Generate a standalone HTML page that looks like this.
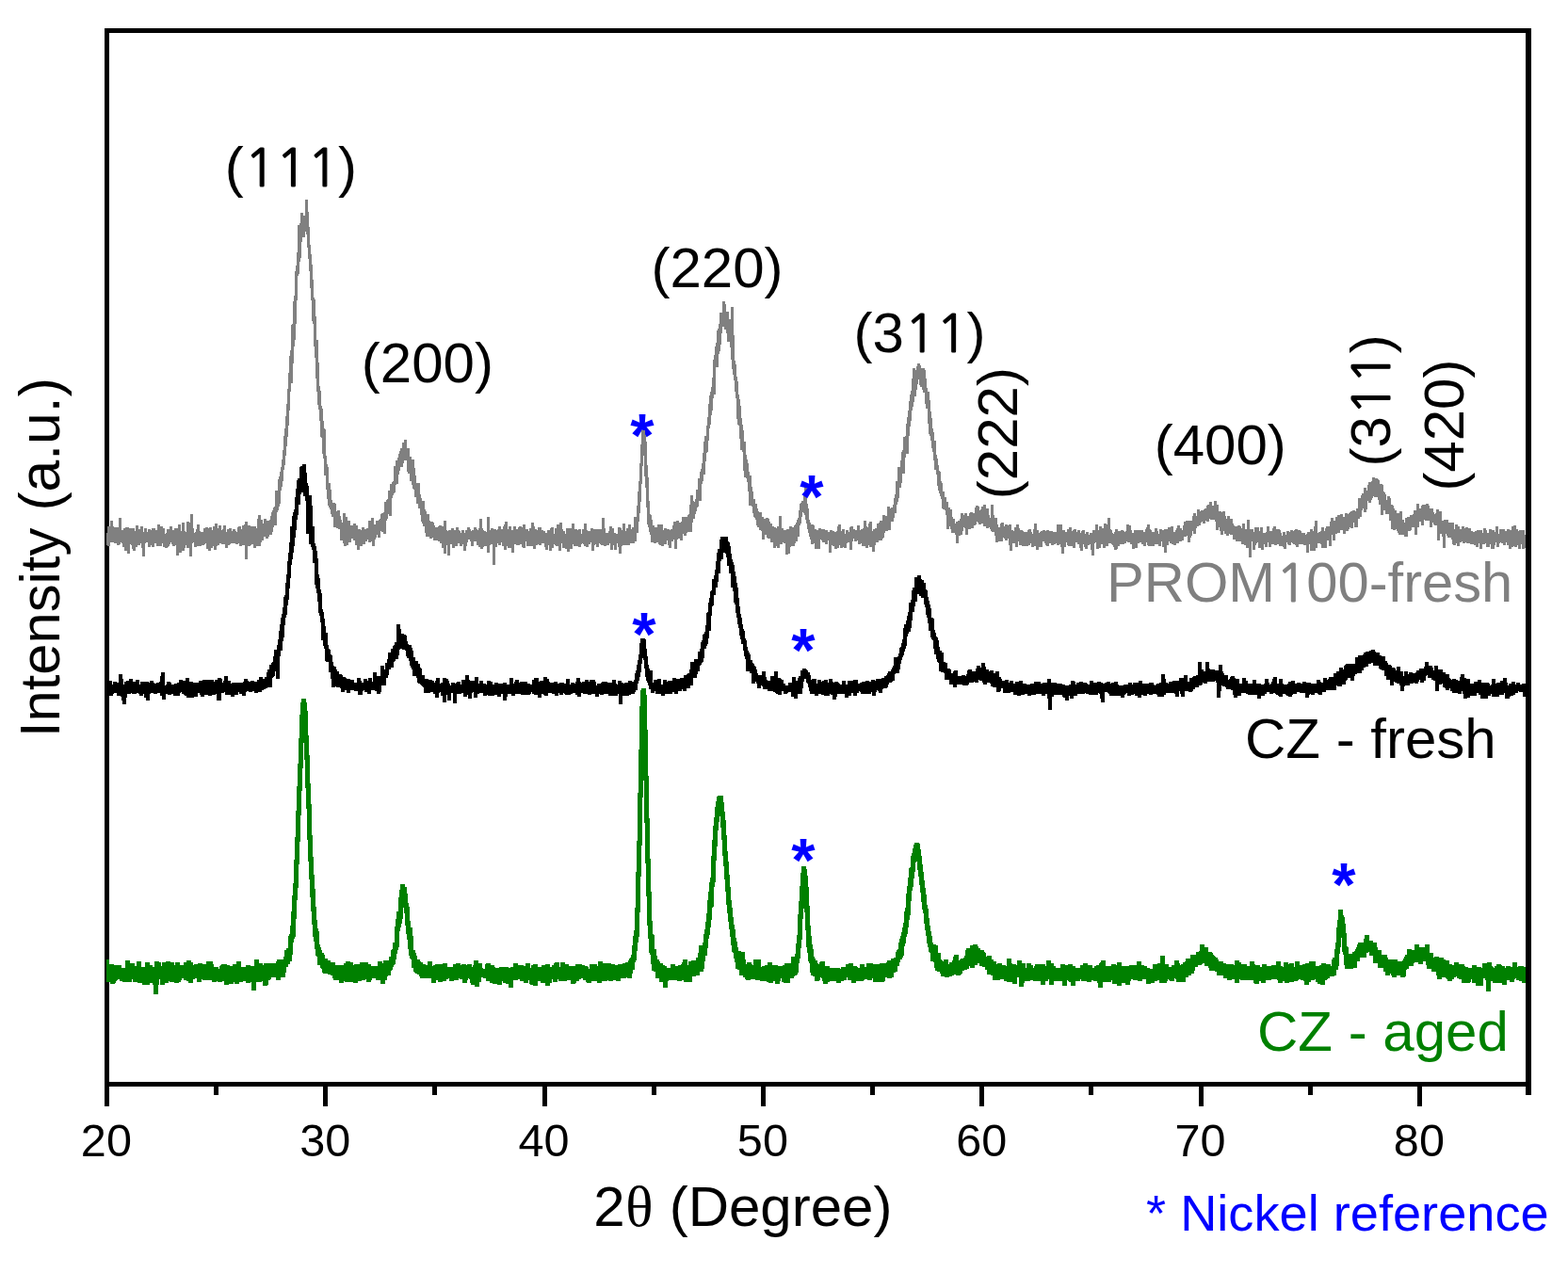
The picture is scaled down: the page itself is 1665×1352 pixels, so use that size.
<!DOCTYPE html>
<html lang="en"><head><meta charset="utf-8"><title>XRD patterns</title>
<style>
html,body{margin:0;padding:0;background:#fff;overflow:hidden;}
svg{display:block;}
text{font-family:"Liberation Sans",sans-serif;font-kerning:none;}
.n1{font-family:"NanumGothic","Liberation Sans",sans-serif;stroke-width:1.1px;}
</style></head><body>
<svg width="1665" height="1352" viewBox="0 0 1665 1352" role="img" aria-label="XRD patterns">
<rect x="0" y="0" width="1665" height="1352" fill="#fff"/>
<g fill="#000" shape-rendering="crispEdges">
<rect x="111" y="30" width="5" height="1145"/>
<rect x="111" y="30" width="1515" height="5"/>
<rect x="111" y="1149" width="1515" height="5"/>
<rect x="1620" y="30" width="6" height="1133"/>
<rect x="227" y="1149" width="5" height="14"/>
<rect x="343" y="1149" width="5" height="26"/>
<rect x="459" y="1149" width="5" height="14"/>
<rect x="576" y="1149" width="5" height="26"/>
<rect x="692" y="1149" width="5" height="14"/>
<rect x="808" y="1149" width="5" height="26"/>
<rect x="924" y="1149" width="5" height="14"/>
<rect x="1040" y="1149" width="5" height="26"/>
<rect x="1156" y="1149" width="5" height="14"/>
<rect x="1273" y="1149" width="5" height="26"/>
<rect x="1389" y="1149" width="5" height="14"/>
<rect x="1505" y="1149" width="5" height="26"/>
</g>
<text x="669.2" y="485.1" font-size="65" font-weight="bold" fill="#0000ff">*</text>
<g shape-rendering="crispEdges">
<path fill="#808080" d="M113 566h1v-7h3v-6h3v6h1v1h5v-10h3v13h2v-2h2v-1h4v1h6v3h1v-6h3v4h2v-3h3v6h1v-4h3v4h1v-3h3v1h1v-2h4v2h2v-6h3v2h3v2h2v6h1v-1h1v-4h3v-3h3v4h2v-2h4v-4h3v7h1v-9h3v9h1v1h1v-11h3v1h1v-9h3v15h1v5h1v-1h1v-3h1v-5h3v7h1v1h3v-4h2v-1h3v1h1v-1h3v3h1v-4h2v-3h3v5h1v-3h3v5h1v-1h1v-4h3v7h1v-3h2v-1h3v3h1v-2h3v2h1v1h1v-5h1v-1h3v3h1v-4h2v-1h1v-3h3v4h3v1h6v2h1v-10h1v-4h3v5h2v4h1v-5h3v2h3v-1h1v-4h1v-4h1v-2h1v-3h1v-1h1v-17h3v-12h1v-3h1v-5h1v-5h1v-8h1v-10h1v-15h1v-8h1v-13h1v-13h1v-16h1v-17h1v-18h1v-6h1v-27h1v-1h1v-24h1v-6h1v-26h1v-6h1v-14h1v-29h2v-2h1v-11h3v3h2v-17h3v13h1v16h1v19h1v10h1v11h1v16h1v19h1v2h1v18h1v25h2v24h1v25h1v5h1v16h1v3h1v13h1v8h1v1h1v28h1v9h1v3h1v17h2v7h1v11h1v3h3v1h1v8h1v-1h3v6h1v4h1v3h1v-10h3v4h2v4h3v5h3v-2h3v2h2v4h3v1h1v-3h3v2h2v-1h2v-8h3v-3h3v7h2v-4h3v-1h1v-1h1v-5h1v-1h2v-1h1v-11h2v-2h1v-1h1v-9h2v-7h2v-2h1v-1h1v-16h2v-6h2v-3h1v-4h1v-3h1v-3h2v-6h2v-3h3v9h3v9h2v3h3v9h1v8h1v8h4v12h1v4h1v3h3v9h1v2h1v3h3v7h1v1h3v1h1v3h1v2h3v-1h1v-1h3v1h2v-6h3v10h1v1h1v-1h3v-2h3v2h2v-3h3v3h1v1h1v2h1v-3h3v3h1v-3h2v-3h3v2h1v2h1v-1h2v-3h3v2h1v1h1v-2h1v-10h3v10h1v2h1v1h2v1h1v-16h3v14h1v-2h3v1h3v1h1v-1h1v-3h3v3h2v-3h1v-2h1v-3h3v8h1v-3h3v4h2v-4h3v3h2v-2h1v-1h3v1h1v-3h3v5h3v2h1v-3h2v-6h3v4h1v3h2v1h1v-3h4v3h2v1h2v2h2v-3h3v-2h1v-1h3v7h1v-6h2v-4h3v-2h3v7h1v2h2v3h1v-6h6v-5h3v6h3v1h1v-1h3v5h1v-5h2v-6h3v7h1v1h3v-3h3v1h9v-12h3v11h1v5h3v-2h1v-5h3v2h2v5h2v1h2v-7h3v1h1v2h1v-7h3v8h1v-3h2v-4h3v5h1v-2h2v-11h3v-12h1v-15h1v-11h1v-19h1v-20h1v-15h4v5h1v7h1v25h1v13h1v25h1v14h1v1h1v5h1v6h2v2h3v-3h6v6h1v-2h3v1h3v1h1v-1h2v-4h1v-4h3v-1h3v2h2v-1h1v-5h6v-2h1v-1h1v-10h1v-10h3v6h1v1h1v-3h1v-10h2v-12h2v-7h1v-3h1v-6h1v-11h1v-12h1v-6h2v-11h1v-9h1v-14h1v-9h1v-4h1v-5h1v-10h1v-19h1v-5h1v-9h1v-4h1v-13h1v-2h1v-5h1v-12h3v-12h3v3h1v8h3v8h2v-13h3v30h1v27h1v4h1v13h1v5h1v14h1v5h1v7h1v13h1v7h1v6h1v12h2v14h1v5h1v4h1v9h1v4h2v12h1v5h1v8h2v5h2v5h1v3h1v1h3v5h2v2h2v-1h3v1h1v3h1v2h2v3h2v1h2v1h1v-2h2v-11h3v13h2v2h3v-1h3v-3h3v1h2v-2h1v-1h1v-2h1v-3h1v-2h1v-8h1v-7h1v-1h1v-2h2v-7h1v-10h3v20h1v5h1v12h1v3h1v2h3v1h1v4h2v1h2v-2h3v1h4v1h3v2h2v-2h3v1h2v1h2v-1h1v-5h1v-2h3v7h1v-2h3v5h1v-4h3v2h1v-5h1v-1h3v3h2v1h2v-5h3v5h1v-1h2v-1h1v-8h3v6h1v1h1v-4h1v-2h3v10h1v-2h2v-1h2v-5h2v-1h1v-2h3v-6h3v1h2v-10h3v2h1v-1h2v-3h1v-7h1v-4h1v-14h2v-15h3v-7h1v-9h1v-2h1v-14h2v-1h1v-13h1v-7h1v-7h1v-10h1v-7h1v-4h1v-13h1v-11h3v2h1v-4h1v-3h3v2h1v3h4v2h1v9h1v10h1v4h2v9h1v12h1v7h1v11h1v4h1v9h2v15h1v4h1v7h1v6h1v1h1v10h1v2h1v9h2v6h2v5h2v6h2v2h2v8h1v2h2v5h1v-2h2v-1h2v-2h1v-6h3v2h1v-2h3v3h2v-3h1v-1h3v1h2v-6h1v-2h3v1h1v4h1v-1h1v-3h2v-2h3v4h3v7h1v3h1v-14h3v11h1v3h3v7h1v3h2v-4h1v-1h3v4h1v-2h3v1h1v-1h3v6h2v1h1v-4h2v-3h3v4h1v2h3v1h1v1h4v-2h1v-1h3v3h1v2h1v-5h1v-6h3v7h2v3h1v-1h1v-1h2v-1h3v1h1v-1h3v1h4v1h4v-8h6v6h3v2h2v-3h2v-2h3v4h1v-1h1v-1h3v3h1v-2h3v3h1v-2h1v-1h3v4h1v-2h3v3h1v-2h3v-3h3v-6h3v6h1v-4h3v2h2v-5h3v1h1v-7h3v12h1v1h1v3h1v1h1v-2h1v-3h3v2h3v-1h3v1h1v1h1v-1h1v-7h3v1h2v5h1v3h2v-3h10v2h2v-3h1v-2h1v-3h3v5h1v1h1v2h3v-4h3v3h1v3h1v-5h3v1h2v-1h4v-2h3v-1h3v6h2v-2h1v-2h1v-3h3v3h2v2h1v-5h1v-4h2v-1h7v-5h1v-3h3v3h1v-7h3v2h1v-1h3v-1h1v-1h2v-3h1v-1h2v-3h3v4h2v-5h3v4h2v7h3v1h1v-1h3v5h1v3h1v-3h3v3h3v5h1v2h1v1h3v-1h3v1h1v2h1v-5h3v6h2v-10h3v10h4v3h1v-5h5v4h1v-4h3v6h3v-1h1v-6h3v5h3v-3h1v-2h3v3h4v1h1v3h1v3h1v-4h3v3h1v-4h3v1h1v-2h3v1h1v-1h1v-1h3v1h3v1h1v2h4v2h1v-1h1v-2h3v-3h3v2h1v-5h1v-6h3v13h1v-1h2v-1h1v-4h3v4h1v-3h1v-2h4v-5h1v-4h3v3h2v-4h2v-2h3v-1h3v3h2v-4h3v1h1v-1h1v-1h1v-1h2v-1h3v1h1v-3h2v-11h3v-3h1v-2h2v-6h3v3h1v-6h1v-3h3v-1h1v-4h3v1h3v1h1v1h1v4h3v1h1v7h1v1h1v2h1v6h1v-4h3v2h1v7h2v1h1v3h1v2h2v3h3v-2h3v9h2v3h1v-5h2v-1h3v-2h3v-1h1v-4h3v-7h3v5h2v-3h1v-1h4v-1h3v2h1v3h4v4h1v2h1v-1h1v-4h3v2h3v10h2v-1h5v3h6v7h1v-5h3v2h2v3h2v-3h3v2h1v-1h3v1h3v3h2v1h2v-1h2v-1h6v3h1v-5h3v2h1v3h2v-4h3v1h3v2h1v-6h3v8h1v-5h6v2h2v-2h3v1h2v-4h2v-1h3v4h2v2h1v-1h6v5h1v-1h1v-1h2V577h-1v5h-3v1h-3v-5h-1v5h-3v-4h-1v2h-3v-1h-1v1h-2v2h-3v-4h-2v-3h-1v3h-3v-2h-2v-1h-1v1h-1v4h-3v-5h-1v3h-1v4h-4v-5h-1v3h-4v-4h-1v1h-3v5h-3v-6h-1v4h-3v-2h-2v-1h-4v-1h-4v-1h-1v1h-3v-2h-1v1h-2v4h-3v-3h-1v2h-3v-1h-1v-5h-1v-2h-4v-2h-1v-2h-1v15h-3v-12h-1v-3h-2v7h-3v-16h-3v-1h-1v-2h-1v5h-3v-7h-5v-1h-1v6h-3v-4h-2v6h-2v8h-3v-8h-3v3h-1v1h-3v6h-4v-2h-6v-2h-1v-2h-1v-2h-1v1h-3v-1h-2v-9h-2v-7h-4v-4h-2v5h-3v-11h-2v-5h-1v-3h-4v-1h-1v2h-1v2h-1v3h-3v-2h-1v9h-1v3h-3v-4h-1v2h-1v7h-2v2h-2v9h-4v-5h-1v6h-3v-1h-1v2h-1v2h-3v3h-3v-4h-3v3h-3v1h-2v7h-3v-6h-1v12h-3v-6h-2v8h-6v-4h-1v-1h-3v5h-2v3h-6v-7h-1v9h-3v-8h-3v-1h-5v3h-3v-2h-1v-1h-2v-1h-1v-1h-1v3h-3v-1h-1v-2h-1v7h-3v-2h-1v-1h-4v-2h-2v1h-3v-1h-3v3h-3v-5h-1v5h-3v-3h-1v6h-3v-2h-3v-6h-1v1h-1v2h-1v5h-3v-9h-1v17h-3v-10h-3v-3h-2v-1h-3v-3h-6v-2h-3v-5h-3v-1h-1v2h-3v-2h-2v-3h-1v4h-3v-4h-1v-4h-1v3h-3v-9h-1v-2h-5v-1h-1v3h-3v-1h-1v3h-3v-2h-1v1h-1v3h-2v1h-2v2h-1v6h-3v-3h-1v5h-1v2h-1v5h-3v-7h-1v1h-3v4h-2v1h-3v2h-3v2h-3v-1h-2v-1h-2v-2h-1v4h-2v8h-3v-6h-2v-6h-1v5h-3v-2h-4v2h-7v-1h-1v-3h-1v4h-3v-2h-2v-2h-2v1h-2v5h-3v1h-3v-5h-2v-2h-3v-1h-1v2h-2v1h-5v2h-2v3h-1v1h-3v-3h-1v-2h-1v-1h-1v-1h-3v3h-3v2h-3v-4h-2v4h-2v1h-3v-7h-1v1h-1v13h-3v-6h-1v-6h-1v1h-2v4h-3v-2h-1v-3h-1v7h-3v-3h-1v-4h-2v-2h-2v6h-3v-2h-5v-1h-1v-3h-1v5h-2v7h-3v-7h-1v-3h-1v1h-3v-2h-1v1h-2v1h-3v-2h-2v3h-3v-1h-1v-2h-1v-2h-2v6h-4v3h-3v-4h-2v1h-3v-4h-1v2h-2v1h-7v-1h-3v-4h-1v6h-3v-4h-3v8h-3v-6h-1v-7h-1v2h-3v-2h-1v-1h-1v4h-5v1h-3v-7h-1v-4h-3v-1h-1v-2h-1v-2h-1v1h-3v-2h-3v-3h-2v1h-3v-2h-1v-1h-1v3h-1v1h-2v3h-3v1h-3v6h-3v-7h-1v-1h-1v4h-1v4h-2v1h-2v8h-3v-9h-1v-2h-4v-4h-1v-3h-1v3h-3v-15h-1v-5h-1v-1h-2v-1h-1v-10h-1v-3h-1v-3h-1v-3h-1v-5h-1v-12h-1v-5h-2v-10h-1v-9h-1v-4h-1v-8h-1v-5h-1v-2h-1v-11h-1v-16h-2v-5h-1v-12h-2v-3h-1v-3h-2v-2h-1v-6h-1v5h-1v6h-1v7h-2v6h-1v5h-1v4h-1v11h-1v6h-1v10h-1v19h-3v4h-1v17h-3v10h-1v5h-2v11h-1v4h-1v3h-1v9h-2v5h-1v4h-3v9h-3v1h-3v2h-1v5h-1v1h-1v2h-4v2h-3v3h-1v7h-3v-5h-3v-2h-1v3h-3v-2h-4v-3h-1v1h-3v-4h-1v1h-3v-3h-1v3h-1v9h-3v-8h-2v1h-1v5h-3v-1h-1v1h-3v-3h-1v3h-2v1h-3v-3h-2v-1h-1v8h-3v-13h-1v4h-3v-2h-3v-2h-1v-1h-1v10h-6v-6h-1v1h-3v-5h-1v-3h-1v-4h-1v-4h-1v-6h-1v-4h-1v-5h-1v-2h-1v-1h-1v5h-1v7h-1v2h-1v12h-2v5h-2v2h-1v3h-4v1h-1v7h-2v1h-3v-12h-2v-1h-1v2h-3v4h-3v-2h-1v2h-3v-6h-3v-4h-3v-1h-1v-3h-2v5h-3v-9h-1v-1h-2v-3h-2v-2h-1v-6h-1v-2h-1v-1h-1v-4h-1v-7h-1v-1h-3v-15h-1v-10h-1v-4h-1v-1h-2v-7h-1v-20h-1v-2h-2v-12h-1v-14h-1v-1h-1v-6h-1v-22h-1v-7h-1v-12h-1v-6h-1v-6h-1v-10h-1v-13h-1v-6h-3v-9h-1v-4h-2v-3h-2v7h-1v12h-1v7h-1v3h-1v14h-3v29h-2v4h-1v13h-1v5h-1v10h-1v4h-1v13h-1v12h-1v1h-1v9h-1v14h-2v7h-1v3h-1v18h-3v6h-1v1h-1v4h-1v3h-1v5h-2v4h-1v10h-5v1h-1v3h-3v-2h-1v7h-3v-2h-2v1h-1v10h-3v-10h-1v2h-2v7h-3v-3h-1v-5h-1v4h-3v2h-3v-1h-2v-1h-1v-2h-2v1h-3v-1h-3v-8h-1v-3h-1v-5h-1v-3h-1v-18h-1v-21h-1v-12h-1v-22h-1v11h-1v19h-1v19h-1v12h-1v9h-1v12h-2v9h-2v2h-5v2h-8v1h-1v8h-3v-7h-1v-4h-1v7h-3v-5h-1v5h-3v-7h-1v2h-3v1h-3v-1h-3v-1h-1v-1h-1v4h-3v-3h-1v1h-1v6h-3v-9h-1v2h-2v3h-3v-1h-2v-2h-1v-1h-1v1h-1v3h-3v-1h-5v-2h-1v5h-3v3h-3v-3h-2v-1h-3v-5h-1v8h-3v-5h-3v-1h-1v-1h-1v4h-2v3h-3v-6h-1v5h-3v-3h-1v-4h-3v2h-3v-1h-1v1h-2v4h-3v-3h-7v-5h-1v7h-3v-1h-1v-3h-2v1h-4v-1h-2v9h-3v-5h-4v-2h-1v4h-3v-4h-2v-4h-1v3h-3v-2h-1v4h-2v19h-3v-22h-2v1h-1v8h-3v-7h-3v1h-1v2h-3v-2h-2v-2h-2v-4h-3v5h-3v-5h-1v-2h-2v3h-1v4h-1v5h-3v-7h-1v2h-3v-3h-2v3h-3v2h-3v-4h-2v12h-3v-11h-1v9h-3v-6h-2v-5h-2v-2h-2v-1h-5v-3h-1v1h-3v-2h-4v-4h-1v-7h-2v-3h-1v-2h-1v-7h-1v-7h-2v-5h-2v-7h-2v-8h-1v-1h-1v-4h-1v-4h-2v-8h-2v-2h-1v-12h-3v3h-1v4h-3v4h-1v4h-1v10h-2v1h-1v8h-1v1h-1v2h-1v3h-1v19h-3v-2h-1v5h-1v2h-1v14h-3v-2h-2v-1h-1v7h-3v-3h-1v3h-1v2h-1v7h-3v-5h-1v1h-3v-3h-1v2h-2v3h-3v2h-3v4h-3v-5h-2v-5h-2v-2h-2v4h-3v3h-2v1h-3v-3h-1v-3h-3v-12h-2v-1h-2v-1h-3v-11h-2v-3h-1v-5h-1v-2h-1v-2h-1v-7h-1v-10h-1v-15h-2v-18h-1v-5h-1v-17h-1v-1h-1v-17h-1v-12h-1v-5h-1v-14h-1v-14h-1v-22h-1v-12h-1v-24h-1v-3h-1v-22h-1v-13h-1v-18h-1v-13h-1v-12h-1v-14h-1v-3h-1v6h-3v5h-1v17h-1v4h-1v13h-1v2h-1v26h-1v25h-1v17h-1v7h-1v18h-1v21h-2v9h-1v20h-1v16h-1v12h-1v10h-1v10h-1v10h-1v5h-1v12h-1v6h-1v4h-1v14h-1v3h-1v4h-1v2h-1v14h-3v2h-1v5h-1v3h-3v2h-1v2h-3v-2h-2v4h-2v2h-1v4h-5v2h-3v-4h-2v1h-1v1h-3v14h-3v-15h-3v1h-3v-3h-1v1h-3v-1h-5v1h-1v1h-2v3h-3v-4h-4v-1h-2v2h-2v1h-1v4h-3v-4h-1v2h-2v3h-3v-2h-2v-6h-1v1h-1v1h-3v1h-5v1h-3v-5h-1v1h-1v14h-3v-9h-3v-3h-1v3h-1v3h-3v2h-3v3h-3v-11h-1v1h-3v-2h-1v-2h-1v2h-1v2h-1v1h-1v1h-3v-1h-2v-4h-1v3h-6v-3h-2v4h-3v-2h-1v2h-3v-5h-2v1h-1v14h-3v-9h-1v-5h-1v2h-3v2h-2v4h-3v-2h-1v-4h-1v-1h-1v10h-3v-3h-3v-4h-2v-4h-1v-1h-1v2h-1v1h-3v-2h-3v-1h-4v4h-3v-1h-1Z"/>
<path fill="#000000" d="M113 725h2v-2h4v4h1v-3h4v1h2v-9h4v5h1v6h1v-3h2v-1h3v-2h4v3h3v-2h4v5h1v-3h9v1h1v-2h4v2h1v1h2v-1h3v-1h1v-6h1v-4h4v14h1v-1h1v-3h4v1h1v2h3v-1h3v-1h2v-3h4v1h3v-3h4v4h4v1h6v-2h4v-1h12v2h1v-2h3v-2h4v1h1v4h1v-2h1v-5h4v5h3v3h1v-1h12v-1h1v-3h4v2h1v1h2v-1h4v1h3v-2h2v-3h4v2h2v-2h2v-5h1v-3h2v-5h2v-2h1v-1h1v-6h1v-7h3v-5h1v-6h1v-9h1v-7h1v-7h1v-4h1v-7h1v-11h1v-2h1v-13h1v-9h1v-14h1v-9h1v-11h1v-17h2v-11h1v-4h1v-3h1v-13h1v-9h1v-9h1v-2h2v-12h1v-1h2v-2h4v9h1v11h1v3h1v10h3v11h1v22h2v18h1v3h1v5h1v8h1v17h1v4h1v12h1v4h1v17h1v3h1v7h1v8h1v7h2v13h1v4h1v1h1v5h1v1h1v7h1v4h1v1h2v3h1v2h2v3h3v1h1v2h3v1h1v1h4v1h4v3h3v-5h4v3h1v2h2v-4h4v2h1v-3h4v4h1v-10h4v4h4v-11h4v4h1v-7h2v-4h1v-7h3v-4h2v-3h1v-1h1v-3h2v-19h4v5h1v5h3v1h2v1h1v6h1v3h1v1h3v3h1v3h1v7h2v4h3v3h2v4h1v1h1v7h3v4h4v1h4v1h2v2h1v-2h1v-3h4v6h1v-1h2v-5h4v1h2v2h1v3h1v2h1v-3h4v1h1v-1h1v-1h4v3h1v-5h4v-5h4v5h1v1h5v-4h4v7h1v-3h4v3h3v1h1v-4h4v1h2v3h2v-2h4v1h5v-1h4v2h3v-7h4v6h1v-2h1v-2h4v3h1v-1h8v2h3v1h2v-5h2v-2h5v4h1v-1h4v-4h4v2h2v3h1v1h4v-1h4v2h2v-1h5v1h2v-5h4v6h1v-2h4v1h1v-2h1v-4h4v4h1v1h1v-1h3v-2h4v2h1v-2h6v2h1v4h1v-2h4v-1h1v-1h6v1h5v-3h4v4h1v1h1v-4h4v2h2v1h1v-1h4v-2h4v1h2v-2h1v-7h1v-3h1v-6h1v-5h1v-6h1v-12h1v-5h5v1h1v10h1v8h1v9h1v4h1v2h3v13h1v-3h4v-1h4v6h2v-5h4v2h1v-1h5v-3h4v1h4v-1h4v-3h3v-1h1v-1h2v-4h1v-8h4v-3h4v-8h2v-3h1v-7h1v-2h1v-6h1v-1h1v-2h1v-7h1v-13h1v-1h1v-10h1v-5h1v-7h1v-1h1v-12h2v-4h1v-6h1v-9h1v-9h1v-4h2v-10h1v-3h8v5h1v1h1v4h1v8h1v6h1v3h1v3h1v7h1v5h1v7h1v5h1v11h1v9h1v8h1v4h1v7h1v5h1v2h1v8h1v2h1v7h1v4h1v2h1v2h1v6h2v3h1v1h1v2h1v1h1v3h1v4h1v2h4v-4h4v6h1v3h1v1h3v-5h4v-5h4v7h3v1h1v1h2v4h2v2h3v-3h4v-6h4v4h2v-3h1v-2h2v-6h2v-2h4v1h1v1h1v2h2v3h1v5h1v-1h5v5h1v-4h4v2h1v-1h2v-1h4v3h1v-4h4v3h1v1h1v-1h4v1h1v1h1v1h2v-4h4v4h2v-4h6v-1h5v4h2v-1h2v-1h4v-1h4v1h2v-2h4v1h1v-2h6v-1h3v-2h2v-1h1v-2h1v-2h3v-2h1v-2h1v-2h1v-9h4v-1h1v-3h1v-6h1v-1h1v-4h1v-4h1v-12h1v-4h2v-4h1v-5h1v-4h1v-10h2v-3h1v-10h1v-3h2v-11h3v-2h4v4h1v1h2v3h2v7h1v1h1v7h1v4h1v4h1v4h1v10h2v1h1v12h1v3h1v4h1v1h1v3h1v7h1v4h2v2h2v10h2v1h2v6h3v1h1v4h2v-2h1v-1h4v6h4v-1h4v1h1v-2h1v-4h1v-1h4v2h4v-3h1v-3h4v2h1v-5h4v4h1v3h3v2h1v-1h4v3h2v-2h4v6h2v2h1v2h3v-1h4v3h1v-2h4v3h2v-2h4v-1h4v3h4v1h4v-1h4v-2h7v2h2v-1h5v-4h4v4h6v1h6v1h3v1h4v-1h2v-4h4v1h1v3h1v-2h3v-1h4v1h4v1h1v1h2v-4h4v2h4v-1h4v1h2v1h2v-1h2v-1h4v2h1v-1h3v-1h4v3h1v1h5v-1h5v-2h4v2h1v-2h6v-2h4v3h7v-1h5v2h1v1h1v-1h1v-1h3v-1h2v-9h4v5h1v4h2v1h1v-2h4v-1h7v-3h5v-3h4v7h2v-4h3v-1h1v-1h3v-1h2v-14h4v8h2v2h2v-10h4v7h1v1h5v1h4v-6h4v7h1v2h1v2h4v5h1v-1h1v-2h1v-1h4v2h1v1h4v5h3v-6h4v3h2v3h5v-4h4v4h5v1h3v-1h1v-5h4v4h1v2h1v-1h1v-2h1v-3h1v-2h4v7h2v-5h4v5h1v1h4v-1h1v-2h3v-1h4v3h2v-1h4v1h2v-2h4v1h5v1h6v-4h4v2h1v1h2v-5h4v2h1v-1h1v-2h5v-4h3v-2h3v-4h4v2h1v-4h1v-1h1v-1h10v-7h3v-2h5v-1h1v-2h2v-1h4v-1h2v-1h4v2h1v1h4v3h2v1h4v5h2v2h1v2h3v1h1v2h3v1h1v2h1v-4h4v5h3v5h1v-5h4v3h1v-2h4v1h3v-1h1v-2h3v-2h5v-2h1v-5h4v4h4v2h1v3h1v-5h4v4h5v3h3v2h4v4h1v1h1v1h1v-1h4v1h2v1h2v-4h1v-3h4v4h2v1h4v5h4v-2h4v-2h4v3h8v1h1v2h1v-1h1v-6h4v5h1v-1h4v-2h3v-3h4v5h1v3h1v-2h3v-2h4v3h1v-2h4v2h2v-1h7V739h-2v1h-4v-5h-4v-1h-1v2h-3v2h-2v1h-3v1h-1v2h-5v-6h-1v2h-5v2h-8v-3h-1v2h-3v3h-8v-4h-2v-2h-2v3h-7v2h-3v1h-4v-5h-1v-3h-1v3h-4v-1h-6v-2h-2v-3h-1v2h-4v-2h-1v-1h-2v-4h-1v1h-3v7h-4v-11h-2v-1h-2v-2h-4v-3h-1v1h-1v5h-2v2h-4v-3h-1v2h-1v2h-4v-1h-1v1h-4v2h-5v1h-1v5h-4v-6h-1v-2h-3v-1h-2v-1h-1v4h-4v-6h-4v-4h-2v-6h-3v-1h-2v-1h-1v-3h-6v-3h-2v1h-3v3h-3v1h-2v3h-2v3h-5v1h-2v2h-1v5h-4v-3h-3v2h-1v1h-1v4h-4v2h-5v-1h-1v5h-11v2h-4v3h-4v-1h-1v-1h-3v2h-4v-1h-1v1h-1v3h-4v-5h-6v-1h-3v2h-4v1h-1v2h-4v-1h-2v-1h-1v-1h-3v3h-4v-1h-1v-1h-2v-1h-1v-1h-2v1h-4v-2h-3v2h-2v2h-4v3h-4v-4h-10v-1h-2v-1h-5v3h-4v2h-4v-3h-1v-5h-2v-1h-5v-2h-1v-1h-3v-1h-1v6h-1v7h-4v-16h-1v-2h-1v1h-8v2h-4v-1h-1v2h-1v1h-3v2h-4v2h-2v2h-1v1h-4v-1h-4v6h-4v-3h-1v-3h-1v6h-4v-3h-1v-1h-9v2h-2v2h-7v-2h-1v-1h-4v1h-4v-1h-2v2h-4v-1h-2v3h-4v-2h-3v-2h-1v1h-3v1h-4v-3h-1v1h-1v1h-1v3h-4v-2h-12v-2h-1v-1h-1v-1h-3v11h-4v-4h-1v-5h-1v-1h-1v2h-10v-1h-3v-1h-1v1h-8v2h-4v3h-4v-3h-1v5h-4v-3h-2v-1h-1v-2h-9v2h-2v14h-4v-12h-1v-5h-2v2h-4v-2h-6v1h-5v1h-4v-2h-3v1h-4v1h-4v-1h-4v-3h-3v1h-8v-5h-2v3h-1v1h-4v-5h-4v-1h-2v-3h-1v-1h-3v2h-4v-2h-1v-2h-3v-1h-1v3h-4v-1h-1v1h-5v2h-1v1h-6v-1h-6v3h-4v-3h-4v-5h-5v-7h-1v-1h-3v-1h-2v-9h-1v-1h-1v-3h-1v-5h-2v-6h-1v-9h-1v-1h-1v-2h-1v-7h-2v-8h-1v-6h-1v-3h-1v-8h-1v-3h-1v-7h-3v-2h-2v-2h-2v8h-2v5h-1v6h-2v9h-1v8h-1v4h-2v2h-1v3h-1v10h-1v3h-1v3h-1v4h-1v2h-1v3h-1v4h-1v6h-1v4h-4v1h-1v7h-2v1h-1v1h-3v2h-1v3h-1v1h-4v1h-1v4h-4v-2h-1v-1h-1v2h-1v4h-4v-4h-1v2h-11v-2h-1v-1h-1v2h-2v3h-4v-3h-2v3h-3v2h-4v-4h-8v3h-1v3h-4v-5h-2v-1h-1v2h-6v-1h-3v-1h-3v2h-4v-2h-5v-3h-1v-4h-1v-4h-1v-1h-1v-4h-2v3h-1v7h-1v6h-5v5h-4v-2h-3v-5h-3v1h-1v1h-4v-3h-2v4h-4v-1h-2v-1h-1v-1h-2v-1h-6v-2h-5v-3h-1v-1h-1v3h-4v-5h-1v-2h-1v2h-4v-11h-2v-2h-4v-13h-1v-3h-1v-6h-1v-7h-2v-5h-1v-4h-1v-8h-1v-4h-1v-7h-1v-5h-1v-9h-1v-2h-1v-12h-1v-4h-2v-15h-2v-8h-2v-9h-1v-4h-1v-1h-2v7h-2v2h-1v13h-2v9h-1v6h-2v8h-2v11h-1v1h-1v10h-1v16h-2v8h-1v6h-1v2h-1v3h-2v10h-1v4h-1v1h-1v2h-1v1h-1v6h-2v3h-1v4h-4v8h-3v3h-4v3h-4v-2h-1v2h-4v3h-4v-2h-2v2h-8v2h-4v-2h-6v-3h-1v2h-4v-4h-2v-4h-1v-3h-1v-2h-1v-4h-1v-9h-1v-9h-1v-2h-1v6h-1v9h-1v5h-1v4h-1v3h-1v7h-2v2h-1v2h-4v1h-2v1h-7v9h-4v-11h-1v2h-10v-2h-5v1h-4v-1h-1v3h-4v-3h-4v1h-4v-1h-5v-1h-2v4h-4v-2h-2v-2h-3v1h-2v1h-6v-1h-1v-1h-1v2h-4v-2h-1v3h-4v-2h-3v-1h-4v3h-4v-1h-1v-1h-2v4h-4v-3h-4v-1h-2v-2h-1v2h-1v1h-10v-1h-6v2h-4v-2h-4v3h-1v4h-4v-7h-2v3h-4v-2h-3v1h-7v-1h-1v1h-4v-3h-4v1h-2v4h-4v-6h-1v1h-1v6h-4v-4h-1v2h-4v-4h-2v1h-5v10h-4v-11h-2v8h-4v-6h-1v8h-4v-7h-2v-4h-1v1h-1v5h-4v-4h-2v-2h-3v1h-7v-6h-1v-1h-1v-1h-1v-1h-1v-1h-2v-1h-1v-5h-1v-2h-4v-7h-1v-2h-1v-2h-1v-5h-1v-3h-2v-2h-1v-6h-1v-1h-3v-1h-2v1h-1v6h-1v4h-3v2h-1v1h-1v6h-3v2h-2v6h-1v3h-2v8h-5v7h-1v2h-4v-3h-2v-1h-4v4h-4v-2h-3v-2h-1v1h-1v4h-5v-4h-4v-1h-4v3h-4v-3h-2v2h-4v-4h-1v-1h-4v-1h-1v1h-4v-9h-1v-7h-2v-11h-3v-1h-1v-13h-1v-3h-1v-6h-2v-19h-1v-7h-1v-3h-1v-12h-1v-9h-1v-5h-1v-4h-1v-23h-2v-14h-1v-3h-1v-3h-2v-11h-3v-35h-1v-5h-2v-4h-2v2h-1v11h-2v11h-1v5h-1v11h-1v8h-1v9h-1v7h-1v7h-1v6h-1v14h-1v11h-1v12h-1v6h-1v10h-1v3h-1v8h-1v13h-1v4h-1v10h-2v6h-1v24h-4v-8h-1v5h-1v1h-1v1h-1v10h-5v1h-2v1h-2v1h-2v2h-4v1h-4v-2h-2v1h-4v-1h-2v1h-1v4h-4v-2h-3v-2h-1v3h-4v2h-4v-2h-6v-3h-1v1h-3v8h-5v-7h-1v1h-4v1h-4v-1h-4v2h-4v-2h-1v-2h-2v4h-4v1h-8v-2h-2v-1h-1v-1h-2v-2h-1v1h-1v3h-7v-2h-2v1h-4v-1h-2v6h-4v-4h-2v-3h-3v1h-4v-1h-3v1h-1v7h-4v-3h-2v-4h-1v2h-4v-2h-1v-1h-2v1h-5v-1h-1v1h-4v4h-1v7h-4v-4h-1v-4h-1v-1h-4v-3h-3v1h-1v2h-4v-1h-3Z"/>
<path fill="#008000" d="M113 1019h3v5h5v1h8v3h4v-8h5v3h5v3h2v-5h5v6h4v-5h5v3h3v2h2v-6h5v1h2v4h1v-4h4v-1h5v1h4v3h1v-3h5v3h4v-3h3v-2h5v2h2v3h1v-1h4v-1h5v1h4v-3h7v3h1v3h5v2h1v-3h1v-1h1v-1h6v1h3v1h3v-2h4v-3h5v6h5v-2h5v1h4v-7h5v4h4v2h1v-2h13v-2h1v-2h7v-3h1v-7h2v-2h2v-13h1v-2h1v-9h1v-15h1v-17h1v-13h1v-25h1v-24h1v-28h1v-26h1v-24h1v-27h1v-25h1v-13h1v-4h5v4h1v9h1v26h1v21h1v30h1v22h1v33h1v23h1v19h1v15h1v19h1v14h1v9h1v3h1v14h1v3h1v3h1v3h2v2h1v4h3v2h3v2h5v3h9v-2h2v-2h5v1h3v3h1v-1h6v-2h9v2h3v2h7v-5h5v2h1v-3h6v-4h2v-7h1v-1h1v-7h2v-17h1v-8h1v-8h2v-15h1v-8h1v-6h5v3h2v7h1v10h1v4h1v15h1v7h2v9h1v15h2v3h1v3h1v4h3v2h1v1h2v2h3v1h2v-4h5v5h1v-1h2v-1h8v-1h5v4h6v-3h3v-1h5v2h1v-1h5v1h1v-1h5v3h1v-2h1v-5h5v3h4v5h1v1h2v-5h1v-1h5v2h4v2h1v1h4v-1h10v1h2v-1h3v-4h5v2h6v1h2v-3h5v5h1v-3h2v-1h5v3h4v-2h4v-1h5v3h2v-2h2v-2h1v-1h5v5h1v-5h5v2h4v2h7v-2h7v1h3v1h3v1h1v2h1v-5h8v2h1v-5h5v2h9v1h4v1h3v-1h5v-1h3v-1h3v-2h1v-2h1v-1h1v-3h1v-10h1v-10h1v-6h1v-24h1v-38h1v-33h1v-51h1v-46h1v-46h1v-17h1v-2h5v7h1v37h1v49h1v45h1v43h1v35h1v31h1v14h1v1h1v15h2v7h1v4h2v2h1v2h3v2h2v1h2v2h4v-4h5v2h3v-1h3v-1h1v-2h1v-3h5v6h1v-4h3v-1h5v-3h2v-5h1v-8h4v-3h1v-9h1v-5h1v-8h1v-9h1v-14h1v-9h1v-10h1v-5h1v-23h1v-17h1v-15h1v-9h1v-11h1v-6h1v-5h1v-1h6v7h1v10h1v9h1v16h1v17h1v11h1v14h1v13h1v14h1v8h1v10h1v8h1v5h1v9h1v4h1v6h1v4h3v1h4v8h1v5h1v-2h5v2h1v1h1v-6h8v8h1v-1h3v-1h3v-3h5v3h6v1h5v-1h2v-2h7v-7h4v-3h1v-11h1v-9h1v-22h1v-14h1v-16h1v-14h1v-7h5v3h1v7h1v12h1v20h1v21h1v11h1v9h1v5h1v8h1v2h1v2h2v3h1v1h1v-2h1v-1h5v5h5v2h11v1h1v-2h5v-3h3v-1h5v3h4v1h1v1h2v-4h5v3h2v-4h7v1h7v-1h7v-1h1v-2h4v-2h3v-1h2v-6h1v-2h1v-1h1v-7h1v-4h1v-3h1v-4h1v-5h1v-5h1v-12h1v-4h1v-15h1v-8h1v-9h1v-10h1v-1h1v-12h1v-3h1v-5h1v-4h1v-2h5v1h1v6h1v7h1v9h1v8h1v9h1v8h1v7h1v11h1v4h1v10h1v8h1v6h1v5h1v7h1v2h3v1h2v8h3v7h1v1h1v1h1v-2h5v5h1v-2h3v-2h1v-4h1v-2h5v6h1v-1h1v-1h3v-1h1v-2h1v-6h1v-2h4v-3h3v-1h5v2h1v2h2v2h4v2h1v1h1v4h1v-1h5v4h2v2h3v3h1v-1h5v2h4v1h1v-8h5v5h1v1h4v1h1v-5h5v3h4v5h1v-5h5v2h2v3h1v-2h1v-2h11v2h1v-6h5v3h3v3h2v2h5v-4h5v1h3v-1h5v2h3v2h5v-3h3v-2h5v2h5v3h2v-2h2v-1h3v-2h1v-1h1v-2h5v6h6v-2h5v1h1v-3h5v4h8v-1h8v-4h5v4h3v1h3v2h3v1h3v-5h5v-1h3v-8h5v9h4v3h3v-2h3v-5h5v3h1v2h1v-1h2v-2h2v-1h1v-3h5v-4h6v-3h3v-1h1v-7h5v3h4v5h4v1h1v2h1v1h1v1h1v1h2v2h1v2h5v2h3v1h8v1h1v-5h5v2h2v2h6v2h3v-5h5v3h1v1h5v2h2v-3h5v2h5v-1h5v-4h5v5h2v1h1v-5h5v2h1v-1h5v4h1v-6h5v4h3v-1h3v-1h4v-2h7v5h4v-1h2v-2h5v1h5v2h1v-7h1v-2h2v-9h1v-7h1v-16h1v-8h1v-11h5v6h1v2h1v7h1v10h1v14h1v1h1v7h4v-2h2v-1h1v-2h1v-2h1v-3h1v-2h6v-4h1v-4h5v6h4v2h4v5h1v3h4v5h6v3h1v2h10v2h5v-1h1v-2h1v-2h1v-2h2v-6h5v1h3v-6h5v3h6v-3h5v9h4v5h1v-1h5v1h5v2h2v1h4v4h3v1h2v-3h5v2h6v2h1v1h3v1h4v-3h5v2h5v1h1v-5h5v-1h5v4h1v1h1v1h1v-2h2v-2h5v1h1v1h3v2h1v-2h5v1h2v-5h5v5h1v-1h6v1h2v-1h3V1042h-2v2h-5v-2h-3v-1h-3v-2h-1v1h-1v3h-5v-2h-3v5h-5v-2h-10v-2h-2v11h-5v-12h-1v-2h-2v8h-8v-3h-4v-4h-1v3h-1v1h-9v-4h-3v-1h-2v-2h-1v1h-2v2h-2v2h-5v-2h-1v-1h-1v-1h-4v2h-5v-4h-1v-4h-5v-3h-5v-4h-1v-4h-3v3h-5v-2h-4v1h-1v3h-5v3h-2v1h-1v7h-1v1h-5v-2h-4v2h-5v-2h-1v-2h-1v2h-5v-4h-2v-4h-6v-5h-5v-8h-4v-4h-1v1h-2v5h-7v4h-3v7h-4v1h-9v-4h-1v-11h-1v-3h-1v-15h-1v10h-1v7h-1v13h-1v4h-2v6h-2v1h-5v2h-2v1h-1v1h-2v5h-5v-1h-3v-2h-2v-3h-1v1h-4v2h-2v3h-5v-4h-1v-1h-3v-1h-2v1h-1v1h-4v1h-5v1h-5v-2h-2v2h-5v-3h-1v-1h-6v1h-6v3h-5v-2h-2v3h-5v-1h-1v-3h-14v-1h-1v4h-5v-4h-3v1h-5v-2h-4v-3h-7v-4h-2v-1h-6v-3h-1v-2h-4v-3h-2v1h-1v1h-4v2h-3v4h-1v3h-3v2h-3v2h-3v5h-10v-3h-1v-1h-1v3h-5v-1h-1v-1h-1v2h-1v2h-8v-3h-2v1h-3v2h-4v1h-5v-5h-4v2h-5v-1h-5v-1h-2v2h-1v4h-5v-2h-4v3h-5v-2h-5v-4h-1v2h-9v6h-5v-5h-1v-2h-4v-1h-2v2h-5v-1h-6v-2h-1v2h-5v5h-5v-4h-2v-1h-1v-1h-1v6h-5v-5h-9v4h-5v-6h-1v2h-3v4h-5v-4h-8v-1h-3v1h-6v2h-1v4h-5v-10h-2v7h-5v-2h-6v-1h-3v-2h-4v1h-8v-5h-2v-1h-4v-5h-2v-3h-3v-1h-3v-3h-2v2h-3v3h-5v-2h-1v3h-2v1h-3v1h-2v3h-1v1h-1v1h-5v-1h-2v1h-2v1h-3v1h-5v-1h-4v-3h-1v-2h-3v-1h-2v-3h-1v-6h-1v-1h-3v-9h-1v-1h-1v-5h-1v-4h-1v-8h-1v-6h-1v-7h-1v-11h-1v-4h-1v-8h-1v-10h-1v-8h-1v-9h-1v-7h-1v-9h-1v1h-1v10h-1v7h-1v9h-1v4h-1v11h-1v15h-1v5h-1v8h-1v7h-1v3h-1v7h-1v3h-1v10h-1v2h-1v2h-2v3h-1v4h-2v6h-2v1h-2v5h-2v1h-5v-1h-2v4h-1v1h-12v-4h-1v2h-5v-1h-3v1h-1v1h-8v2h-5v-3h-4v-3h-1v3h-3v1h-3v2h-5v-2h-7v1h-2v2h-5v-3h-1v-3h-1v-1h-1v3h-1v1h-5v-5h-2v-1h-2v-3h-1v-10h-1v-2h-1v-9h-1v-6h-1v-18h-1v-19h-1v-4h-1v11h-1v22h-1v9h-1v11h-1v5h-1v10h-1v2h-1v1h-2v1h-1v2h-4v5h-7v-1h-2v-4h-1v3h-1v3h-5v-3h-2v2h-5v-1h-2v-1h-7v-1h-5v-1h-5v1h-5v-1h-1v-2h-2v-2h-4v-6h-2v-1h-2v-7h-1v-4h-1v-6h-1v-1h-1v-7h-1v-9h-1v-8h-1v-8h-1v-9h-1v-9h-1v-14h-1v-13h-1v-14h-1v-11h-1v-17h-1v-13h-1v-12h-1v6h-1v9h-1v17h-1v15h-1v23h-1v5h-1v21h-1v1h-1v13h-1v8h-1v8h-1v4h-1v10h-1v8h-2v6h-1v8h-1v3h-4v4h-4v1h-4v6h-9v-2h-2v1h-5v-1h-9v1h-1v7h-5v-6h-4v-4h-4v-7h-2v-1h-2v-7h-1v-10h-1v-2h-1v-15h-1v-14h-1v-31h-1v-35h-1v-43h-1v-45h-1v18h-1v51h-1v33h-1v38h-1v26h-1v6h-1v9h-1v10h-1v2h-1v8h-2v4h-1v5h-5v-1h-1v1h-6v3h-5v-1h-3v1h-5v-1h-1v1h-6v2h-5v-2h-6v2h-5v-1h-1v-2h-3v-2h-2v1h-2v2h-3v2h-1v1h-5v-4h-4v1h-9v-2h-1v3h-5v-3h-1v4h-2v3h-5v-3h-5v-2h-3v5h-5v-1h-3v-1h-1v-4h-1v3h-5v-2h-4v-2h-2v1h-5v8h-5v-4h-3v-1h-3v-2h-1v4h-5v-1h-5v-1h-3v-2h-4v-3h-3v-1h-2v5h-2v5h-5v-2h-4v-2h-1v-4h-1v-1h-1v2h-1v3h-5v-4h-3v-1h-1v2h-5v1h-5v-3h-1v1h-2v2h-4v1h-5v-2h-2v3h-5v-5h-12v-2h-1v-2h-2v-1h-2v-1h-1v-1h-1v-4h-2v-9h-1v-1h-1v-3h-1v-7h-1v-10h-1v-6h-1v-9h-1v-13h-1v-6h-1v12h-1v5h-1v4h-1v4h-1v17h-1v3h-1v4h-1v6h-1v5h-1v1h-1v2h-1v3h-1v1h-1v5h-3v1h-1v4h-2v4h-5v-4h-5v-2h-4v2h-1v2h-5v-3h-1v1h-4v1h-4v2h-5v-1h-9v-1h-1v2h-5v-3h-6v-2h-1v-3h-2v-1h-3v-1h-5v-1h-1v-4h-1v-1h-1v-3h-3v-9h-1v-1h-1v-7h-1v-8h-1v-5h-1v-13h-1v-14h-1v-15h-1v-19h-1v-19h-1v-23h-1v-33h-1v-22h-1v-30h-1v-18h-1v27h-1v24h-1v26h-1v28h-1v24h-1v25h-1v13h-1v20h-1v19h-1v2h-1v4h-1v13h-1v7h-2v3h-2v3h-2v6h-1v5h-5v3h-5v-3h-5v2h-1v1h-2v5h-1v1h-5v-5h-1v1h-6v9h-5v-9h-1v1h-5v-2h-3v1h-4v2h-5v-2h-1v2h-5v1h-5v-4h-2v1h-5v-1h-1v1h-5v-2h-10v-1h-1v3h-5v-4h-2v1h-2v4h-5v-2h-2v-1h-3v-2h-2v2h-1v2h-2v1h-5v-1h-5v-1h-1v2h-4v2h-5v-6h-1v6h-1v10h-5v-10h-1v-2h-3v2h-8v-2h-5v-1h-5v-3h-1v3h-10v-1h-3v-2h-2v1h-1v1h-1v2h-1v1h-5v-2h-4Z"/>
</g>
<g fill="#000" shape-rendering="crispEdges"><rect x="1620" y="30" width="6" height="1133"/></g>
<text x="112.9" y="1227.7" font-size="48.6" text-anchor="middle">20</text>
<text x="345.2" y="1227.7" font-size="48.6" text-anchor="middle">30</text>
<text x="577.6" y="1227.7" font-size="48.6" text-anchor="middle">40</text>
<text x="809.9" y="1227.7" font-size="48.6" text-anchor="middle">50</text>
<text x="1042.2" y="1227.7" font-size="48.6" text-anchor="middle">60</text>
<text x="1274.6" y="1227.7" font-size="48.6" text-anchor="middle">70</text>
<text x="1506.9" y="1227.7" font-size="48.6" text-anchor="middle">80</text>
<text x="630.2" y="1302" font-size="60">2<tspan dx="0.6" font-size="61" font-family="'Liberation Serif',serif">θ</tspan><tspan dx="0.6"> (Degree)</tspan></text>
<text transform="translate(63,783) rotate(-90)" font-size="59.7">Intensity <tspan x="240.4" font-size="60.6">(a.u.)</tspan></text>
<text x="1217" y="1307" font-size="54.2" fill="#0000ff">* Nickel reference</text>
<text y="638.5" font-size="59.7" fill="#808080"><tspan x="1175.0">PROM</tspan><tspan class="n1" x="1354.6" font-size="56.2" stroke="#808080">1</tspan><tspan x="1387.3">00-fresh</tspan></text>
<text x="1322" y="804.5" font-size="60" fill="#000">CZ - fresh</text>
<text x="1335" y="1116" font-size="60" fill="#008000">CZ - aged</text>
<text y="198.0" font-size="60" fill="#000"><tspan x="238.8">(</tspan><tspan class="n1" x="259.3 292.6 326.0" font-size="56.5" stroke="#000">111</tspan><tspan x="358.9">)</tspan></text>
<text y="405.8" font-size="60" fill="#000"><tspan x="383.8">(200)</tspan></text>
<text y="305.2" font-size="60" fill="#000"><tspan x="691.5">(220)</tspan></text>
<text y="374.0" font-size="60" fill="#000"><tspan x="906.5">(3</tspan><tspan class="n1" x="960.3 993.7" font-size="56.5" stroke="#000">11</tspan><tspan x="1026.6">)</tspan></text>
<text y="493.4" font-size="60" fill="#000"><tspan x="1225.7">(400)</tspan></text>
<text transform="translate(1080.0,530.2) rotate(-90)" font-size="60" fill="#000"><tspan x="0.0">(222)</tspan></text>
<text transform="translate(1475.6,495.4) rotate(-90)" font-size="60" fill="#000"><tspan x="0.0">(3</tspan><tspan class="n1" x="53.8 87.2" font-size="56.5" stroke="#000">11</tspan><tspan x="120.1">)</tspan></text>
<text transform="translate(1554.2,521.6) rotate(-90)" font-size="60" fill="#000"><tspan x="0.0">(420)</tspan></text>
<text x="849.3" y="550.3" font-size="65" font-weight="bold" fill="#0000ff">*</text>
<text x="671.2" y="696.3" font-size="65" font-weight="bold" fill="#0000ff">*</text>
<text x="840.2" y="713.3" font-size="65" font-weight="bold" fill="#0000ff">*</text>
<text x="840.3" y="936.2" font-size="65" font-weight="bold" fill="#0000ff">*</text>
<text x="1414.2" y="962.2" font-size="65" font-weight="bold" fill="#0000ff">*</text>
</svg></body></html>
